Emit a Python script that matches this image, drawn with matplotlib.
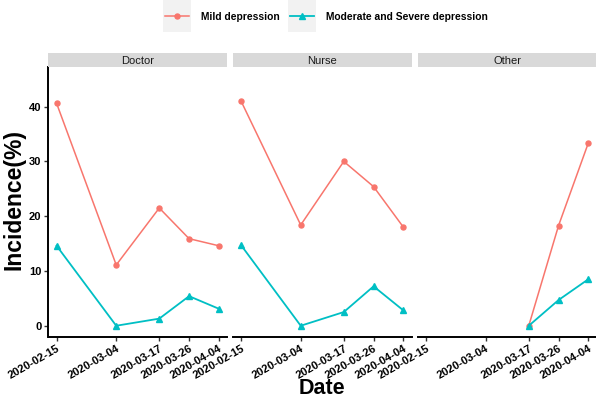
import numpy as np
import pandas as pd
import matplotlib
matplotlib.use("Agg")
import matplotlib.pyplot as plt
import matplotlib.dates as mdates
from matplotlib.patches import Rectangle

plt.rcParams["font.family"] = ["Liberation Sans", "DejaVu Sans"]

dates = pd.to_datetime(["2020-02-15", "2020-03-04", "2020-03-17", "2020-03-26", "2020-04-04"])
other_dates = dates[2:]

doctor_mild = [40.6, 11.1, 21.5, 15.9, 14.6]
doctor_severe = [14.6, 0.0, 1.3, 5.4, 3.1]
nurse_mild = [41.0, 18.4, 30.0, 25.4, 18.0]
nurse_severe = [14.7, 0.0, 2.5, 7.2, 2.8]
other_mild = [0.0, 18.3, 33.4]
other_severe = [0.0, 4.7, 8.5]

panels = ["Doctor", "Nurse", "Other"]
mild_color = "#F8766D"
severe_color = "#00BFC4"

fig = plt.figure(figsize=(5.96, 4.05), dpi=100)
W, H = 596, 405

lefts = [48.5, 233, 418]
pw = 178.5
bottom_px, top_px = 336.7, 66.7
pad = pd.Timedelta(days=2.45)

series = {
    "Doctor": (dates, doctor_mild, dates, doctor_severe),
    "Nurse": (dates, nurse_mild, dates, nurse_severe),
    "Other": (other_dates, other_mild, other_dates, other_severe),
}

for i, name in enumerate(panels):
    ax = fig.add_axes([lefts[i] / W, 1 - bottom_px / H, pw / W, (bottom_px - top_px) / H])
    xm, ym, xs, ys = series[name]
    l1, = ax.plot(xm, ym, color=mild_color, lw=1.1, marker="o", ms=3.6, label="Mild depression")
    l2, = ax.plot(xs, ys, color=severe_color, lw=1.3, marker="^", ms=4.3,
                  label="Moderate and Severe depression")
    ax.set_xlim(dates[0] - pad, dates[-1] + pad)
    ax.set_ylim(-2.0, 47.3)
    ax.set_xticks(dates)
    ax.xaxis.set_major_formatter(mdates.DateFormatter("%Y-%m-%d"))
    ax.set_yticks([0, 10, 20, 30, 40])
    for s in ["top", "right"]:
        ax.spines[s].set_visible(False)
    ax.spines["bottom"].set_linewidth(1.4)
    ax.spines["left"].set_linewidth(1.4)
    ax.tick_params(axis="both", length=3, width=1, labelsize=8, pad=2, color="#333333")
    for lab in ax.get_xticklabels():
        lab.set_rotation(30)
        lab.set_ha("right")
        lab.set_rotation_mode("anchor")
        lab.set_fontweight("bold")
    for lab in ax.get_yticklabels():
        lab.set_fontweight("bold")
    if i > 0:
        ax.spines["left"].set_visible(False)
        ax.tick_params(axis="y", left=False, labelleft=False)

    strip = fig.add_axes([lefts[i] / W, 1 - top_px / H, pw / W, 13.7 / H])
    strip.set_facecolor("#D9D9D9")
    strip.set_xticks([])
    strip.set_yticks([])
    for s in strip.spines.values():
        s.set_visible(False)
    strip.text(0.5, 0.45, name, ha="center", va="center", fontsize=8, color="#1A1A1A")

fig.text(14 / W, 1 - 200 / H, "Incidence(%)", ha="center", va="center", rotation=90,
         fontsize=16.5, fontweight="bold")
fig.text(322 / W, 1 - 388 / H, "Date", ha="center", va="center", fontsize=15.5, fontweight="bold")

leg = fig.legend(handles=[l1, l2], loc="center", bbox_to_anchor=(326 / W, 1 - 16.5 / H),
                 ncol=2, frameon=False, prop={"weight": "bold", "size": 7.4},
                 handlelength=2.4, columnspacing=1.0, handletextpad=1.1)

fig.canvas.draw()
for h in leg.legend_handles:
    bb = h.get_window_extent()
    cx = (bb.x0 + bb.x1) / 2
    cy = (bb.y0 + bb.y1) / 2
    fig.add_artist(Rectangle(((cx - 14) / W, (cy - 16) / H), 28 / W, 32 / H,
                             transform=fig.transFigure, facecolor="#F2F2F2",
                             edgecolor="none", zorder=0))

fig.savefig("out.png", dpi=100)
